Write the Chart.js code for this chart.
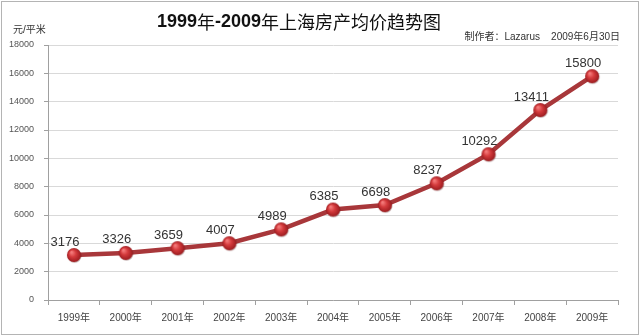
<!DOCTYPE html>
<html>
<head>
<meta charset="utf-8">
<script src="https://cdn.jsdelivr.net/npm/chart.js@4.4.1/dist/chart.umd.min.js"></script>
<style>
  html, body { margin: 0; padding: 0; background: #fff; }
  #wrap { position: relative; width: 640px; height: 336px; }
</style>
</head>
<body>
<div id="wrap"><canvas id="c" width="640" height="336"></canvas></div>
<script>
// Shanghai average housing price, yuan per square metre
const years = ['1999年', '2000年', '2001年', '2002年', '2003年', '2004年', '2005年', '2006年', '2007年', '2008年', '2009年'];
const prices = [3176, 3326, 3659, 4007, 4989, 6385, 6698, 8237, 10292, 13411, 15800];
const yMin = 0, yMax = 18000, yStep = 2000;

const titleText = '1999年-2009年上海房产均价趋势图';
const authorText = '制作者：Lazarus    2009年6月30日';
const unitText = '元/平米';

// Glossy red marker drawn once and reused as the point style
function makeMarker(r) {
  const s = r * 2 + 4;
  const cv = document.createElement('canvas');
  cv.width = s; cv.height = s;
  const g = cv.getContext('2d');
  const cx = s / 2, cy = s / 2;
  g.beginPath();
  g.arc(cx + 0.6, cy + 0.8, r, 0, Math.PI * 2);
  g.fillStyle = 'rgba(80,20,20,0.35)';
  g.fill();
  const grad = g.createRadialGradient(cx - r * 0.35, cy - r * 0.4, r * 0.1, cx, cy, r);
  grad.addColorStop(0, '#f47a7a');
  grad.addColorStop(0.45, '#d43a3c');
  grad.addColorStop(1, '#9c1c20');
  g.beginPath();
  g.arc(cx, cy, r, 0, Math.PI * 2);
  g.fillStyle = grad;
  g.fill();
  return cv;
}
const marker = makeMarker(7);

// Title: Latin digits in bold, CJK glyphs in regular weight
function drawTitle(ctx, text, cx, cy) {
  const latin = 'bold 18px "Liberation Sans", sans-serif';
  const cjk = '18px "Noto Sans CJK SC", sans-serif';
  const parts = [];
  for (const ch of text) {
    const isLatin = /[0-9\-]/.test(ch);
    const f = isLatin ? latin : cjk;
    if (parts.length && parts[parts.length - 1].f === f) parts[parts.length - 1].t += ch;
    else parts.push({ t: ch, f });
  }
  let total = 0;
  parts.forEach(p => { ctx.font = p.f; p.w = ctx.measureText(p.t).width; total += p.w; });
  let x = cx - total / 2;
  ctx.textAlign = 'left';
  parts.forEach(p => { ctx.font = p.f; ctx.fillText(p.t, x, cy); x += p.w; });
}

const decor = {
  id: 'decor',
  afterDatasetsDraw(chart) {
    const ctx = chart.ctx;
    const meta = chart.getDatasetMeta(0);
    ctx.save();
    ctx.font = '13px "Liberation Sans", Arial, sans-serif';
    ctx.fillStyle = '#333';
    ctx.textAlign = 'center';
    ctx.textBaseline = 'middle';
    meta.data.forEach((pt, i) => {
      ctx.fillText(String(prices[i]), pt.x - 9, pt.y - 13);
    });
    ctx.restore();
  },
  afterDraw(chart) {
    const ctx = chart.ctx;
    ctx.save();
    ctx.fillStyle = '#111';
    ctx.textBaseline = 'middle';
    drawTitle(ctx, titleText, 299, 22);
    ctx.fillStyle = '#333';
    ctx.textAlign = 'right';
    ctx.font = '10px "Liberation Sans", "Noto Sans CJK SC", sans-serif';
    ctx.fillText(authorText, 620, 37);
    ctx.textAlign = 'left';
    ctx.fillText(unitText, 13, 30);
    ctx.strokeStyle = '#b4b4b4';
    ctx.lineWidth = 1;
    ctx.strokeRect(1.5, 1.5, 637, 333);
    ctx.restore();
  }
};

new Chart(document.getElementById('c'), {
  type: 'line',
  data: {
    labels: years,
    datasets: [{
      data: prices,
      borderColor: '#a8373a',
      borderWidth: 4.5,
      pointStyle: marker,
      pointRadius: 7,
      pointHoverRadius: 7,
      tension: 0,
      fill: false
    }]
  },
  options: {
    responsive: false,
    animation: false,
    events: [],
    layout: { padding: { left: 0, right: 22, top: 45, bottom: 0 } },
    plugins: {
      legend: { display: false },
      title: { display: false },
      tooltip: { enabled: false }
    },
    scales: {
      x: {
        type: 'category',
        offset: true,
        afterFit(scale) { scale.height = 36; },
        grid: {
          offset: true,
          drawOnChartArea: false,
          tickLength: 5,
          color: '#a0a0a0'
        },
        border: { color: '#a0a0a0', width: 1 },
        ticks: {
          color: '#444',
          padding: 7,
          maxRotation: 0,
          autoSkip: false,
          font: { size: 10, family: '"Liberation Sans", "Noto Sans CJK SC", sans-serif' }
        }
      },
      y: {
        min: yMin,
        max: yMax,
        afterFit(scale) { scale.width = 48; },
        grid: {
          color: '#d9d9d9',
          tickLength: 4,
          tickColor: '#a0a0a0'
        },
        border: { color: '#a0a0a0', width: 1 },
        ticks: {
          stepSize: yStep,
          color: '#555',
          padding: 10,
          callback: v => String(v),
          font: { size: 9, family: '"Liberation Sans", Arial, sans-serif' }
        }
      }
    }
  },
  plugins: [decor]
});
</script>
</body>
</html>
